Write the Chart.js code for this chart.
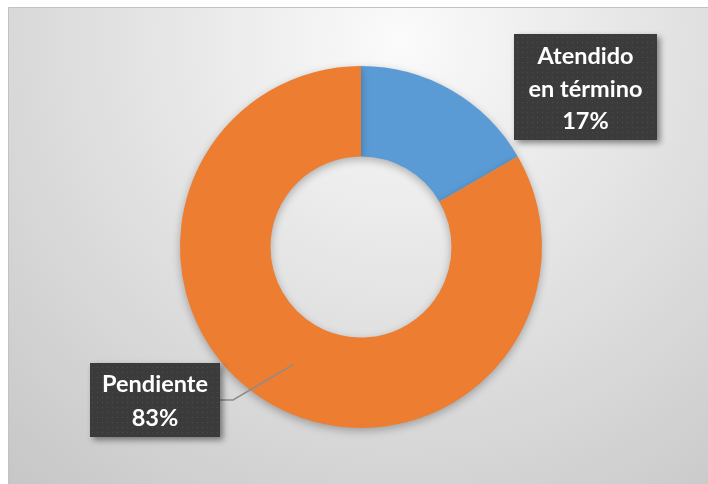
<!DOCTYPE html>
<html>
<head>
<meta charset="utf-8">
<script src="https://cdn.jsdelivr.net/npm/chart.js@4.4.1/dist/chart.umd.min.js"></script>
<style>
  html, body { margin: 0; padding: 0; background: #ffffff; }
  #wrap { width: 708px; height: 484px; position: relative; }
</style>
</head>
<body>
<div id="wrap"><canvas id="c" width="708" height="484"></canvas></div>
<script>
// ---- data ----
const categories = ["Atendido en término", "Pendiente"];
const labelLines = [["Atendido", "en término"], ["Pendiente"]];
const values = [1, 5];
const colors = ["#5B9BD5", "#ED7D31"];

const FONT = "bold 23.5px Lato, 'Open Sans', sans-serif";

function makePattern(ctx) {
  const p = document.createElement("canvas");
  p.width = 5; p.height = 5;
  const pc = p.getContext("2d");
  pc.fillStyle = "#3b3b3b";
  pc.fillRect(0, 0, 5, 5);
  pc.fillStyle = "#4d4d4d";
  pc.fillRect(2, 2, 1, 1);
  return ctx.createPattern(p, "repeat");
}

const bgPlugin = {
  id: "bg",
  beforeDraw(chart) {
    const ctx = chart.ctx;
    ctx.save();
    ctx.fillStyle = "#ffffff";
    ctx.fillRect(0, 0, chart.width, chart.height);
    const g = ctx.createRadialGradient(400, 40, 0, 400, 40, 620);
    g.addColorStop(0, "#fbfbfb");
    g.addColorStop(0.45, "#e2e2e2");
    g.addColorStop(1, "#c4c4c4");
    ctx.fillStyle = g;
    ctx.fillRect(8, 7, chart.width - 8, chart.height - 7);
    ctx.strokeStyle = "#c2c2c2";
    ctx.lineWidth = 1;
    ctx.beginPath();
    ctx.moveTo(8.5, chart.height);
    ctx.lineTo(8.5, 7.5);
    ctx.lineTo(chart.width, 7.5);
    ctx.stroke();
    ctx.restore();
  }
};

const shadowPlugin = {
  id: "shadow",
  beforeDatasetDraw(chart) {
    const ctx = chart.ctx;
    ctx.save();
    ctx.shadowColor = "rgba(0,0,0,0.28)";
    ctx.shadowBlur = 9;
    ctx.shadowOffsetX = 0;
    ctx.shadowOffsetY = 3;
  },
  afterDatasetDraw(chart) {
    chart.ctx.restore();
  }
};

// label box layout (positions only)
const boxes = [
  { x: 514, y: 34, w: 143, h: 106, lineGap: 32.5, firstBase: 64, leader: false },
  { x: 90, y: 363, w: 130, h: 74, lineGap: 34, firstBase: 392, leader: true }
];

const labelPlugin = {
  id: "labels",
  afterDraw(chart) {
    const ctx = chart.ctx;
    const meta = chart.getDatasetMeta(0);
    const total = values.reduce((a, b) => a + b, 0);
    const pat = makePattern(ctx);
    ctx.save();
    boxes.forEach((b, i) => {
      if (b.leader) {
        const arc = meta.data[i];
        const pt = arc.getCenterPoint();
        ctx.strokeStyle = "#8c8c8c";
        ctx.lineWidth = 1.5;
        ctx.beginPath();
        ctx.moveTo(b.x + b.w, b.y + b.h / 2);
        ctx.lineTo(b.x + b.w + 13, b.y + b.h / 2);
        ctx.lineTo(pt.x, pt.y);
        ctx.stroke();
      }
      ctx.save();
      ctx.shadowColor = "rgba(0,0,0,0.45)";
      ctx.shadowBlur = 6;
      ctx.shadowOffsetX = 3;
      ctx.shadowOffsetY = 3;
      ctx.fillStyle = "#3b3b3b";
      ctx.fillRect(b.x, b.y, b.w, b.h);
      ctx.restore();
      ctx.fillStyle = pat;
      ctx.fillRect(b.x, b.y, b.w, b.h);
      const pct = Math.round(values[i] / total * 100) + "%";
      const lines = labelLines[i].concat([pct]);
      ctx.fillStyle = "#ffffff";
      ctx.font = FONT;
      ctx.textAlign = "center";
      ctx.textBaseline = "alphabetic";
      lines.forEach((t, k) => {
        ctx.fillText(t, b.x + b.w / 2, b.firstBase + k * b.lineGap);
      });
    });
    ctx.restore();
  }
};

new Chart(document.getElementById("c"), {
  type: "doughnut",
  data: {
    labels: categories,
    datasets: [{
      data: values,
      backgroundColor: colors,
      borderWidth: 0,
      hoverOffset: 0
    }]
  },
  options: {
    responsive: false,
    animation: false,
    cutout: "50%",
    layout: { padding: { left: 180, right: 166, top: 66, bottom: 56 } },
    plugins: {
      legend: { display: false },
      tooltip: { enabled: false }
    }
  },
  plugins: [bgPlugin, shadowPlugin, labelPlugin]
});
</script>
</body>
</html>
